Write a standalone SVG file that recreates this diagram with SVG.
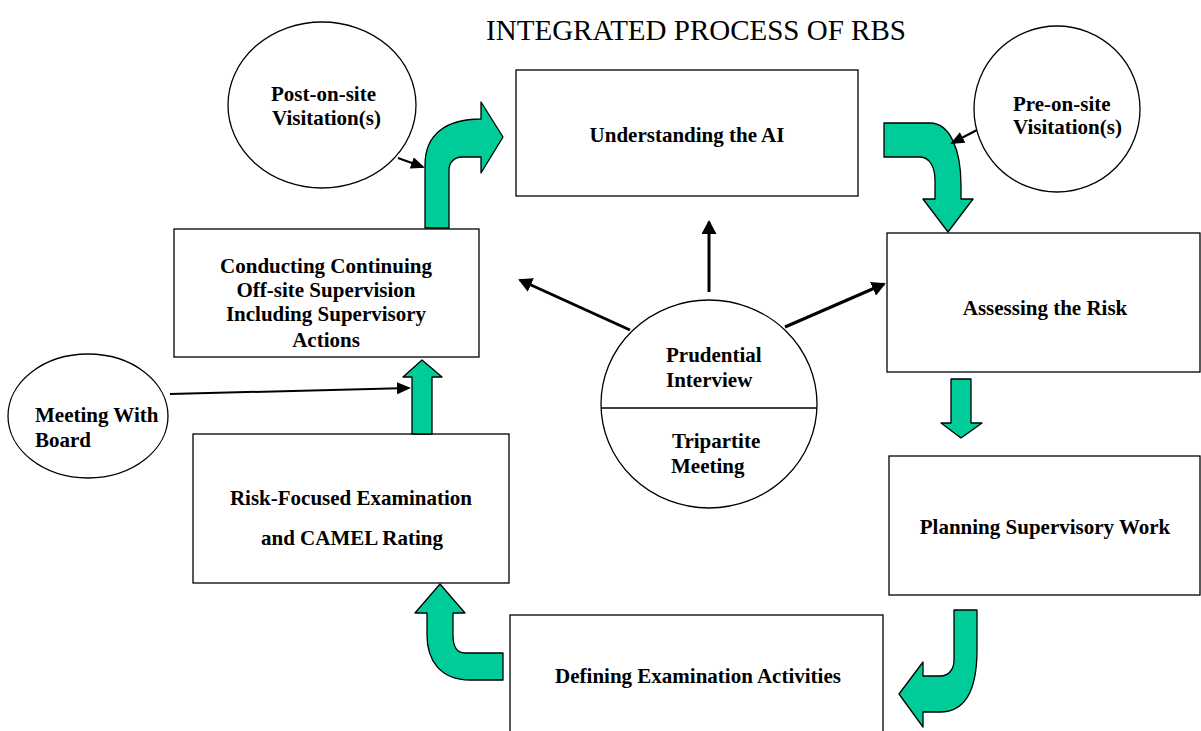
<svg xmlns="http://www.w3.org/2000/svg" width="1201" height="731" viewBox="0 0 1201 731">
<style>
.box{fill:#fff;stroke:#000;stroke-width:1.3}
.circ{fill:#fff;stroke:#000;stroke-width:1.3}
.t{font-family:"Liberation Serif","Times New Roman",serif;font-weight:bold;font-size:21px;fill:#000}
.c{text-anchor:middle}
.g{fill:#00CC99;stroke:#000;stroke-width:1.3;stroke-linejoin:round}
.ln{stroke:#000;fill:none}
</style>
<defs>
<marker id="ah" markerWidth="14" markerHeight="15" refX="12" refY="7.5" orient="auto" markerUnits="userSpaceOnUse"><path d="M0,0 L14,7.5 L0,15 Z" fill="#000"/></marker>
<marker id="ahs" markerWidth="14" markerHeight="12" refX="12" refY="6" orient="auto" markerUnits="userSpaceOnUse"><path d="M0,0 L14,6 L0,12 Z" fill="#000"/></marker>
</defs>
<rect width="1201" height="731" fill="#fff"/>
<text x="696" y="40" font-family="Liberation Serif,'Times New Roman',serif" font-size="29" text-anchor="middle">INTEGRATED PROCESS OF RBS</text>

<g id="understanding">
<rect class="box" x="516" y="70" width="342" height="126"/>
<text class="t c" x="687" y="142">Understanding the AI</text>
</g>
<g id="assessing">
<rect class="box" x="887" y="233" width="313" height="139"/>
<text class="t c" x="1045" y="315">Assessing the Risk</text>
</g>
<g id="planning">
<rect class="box" x="889" y="456" width="311" height="139"/>
<text class="t c" x="1045" y="534">Planning Supervisory Work</text>
</g>
<g id="defining">
<rect class="box" x="510" y="615" width="373" height="130"/>
<text class="t c" x="698" y="683">Defining Examination Activities</text>
</g>
<g id="riskfocused">
<rect class="box" x="193" y="434" width="316" height="149"/>
<text class="t c" x="351" y="505">Risk-Focused Examination</text>
<text class="t c" x="352" y="545">and CAMEL Rating</text>
</g>
<g id="conducting">
<rect class="box" x="174" y="229" width="305" height="128"/>
<text class="t c" x="326" y="273">Conducting Continuing</text>
<text class="t c" x="326" y="297">Off-site Supervision</text>
<text class="t c" x="326" y="321">Including Supervisory</text>
<text class="t c" x="326" y="347">Actions</text>
</g>
<g id="postonsite">
<ellipse class="circ" cx="322" cy="105" rx="94" ry="83"/>
<text class="t" x="271" y="101">Post-on-site</text>
<text class="t" x="272" y="125">Visitation(s)</text>
</g>
<g id="preonsite">
<ellipse class="circ" cx="1057" cy="109" rx="83" ry="83"/>
<text class="t" x="1013" y="111">Pre-on-site</text>
<text class="t" x="1013" y="134">Visitation(s)</text>
</g>
<g id="meetingboard">
<ellipse class="circ" cx="88" cy="416" rx="80" ry="62"/>
<text class="t" x="35" y="422">Meeting With</text>
<text class="t" x="35" y="447">Board</text>
</g>
<g id="prudential">
<ellipse class="circ" cx="709" cy="404" rx="108" ry="104"/>
<line class="ln" x1="601" y1="408" x2="817" y2="408" stroke-width="1.3"/>
<text class="t" x="666" y="362">Prudential</text>
<text class="t" x="666" y="387">Interview</text>
<text class="t" x="672" y="448">Tripartite</text>
<text class="t" x="671" y="473">Meeting</text>
</g>

<g id="connectors">
<path class="g" d="M425,228 L425,165 C425,135 445,119 481,119 L481,102 L503,137 L481,173 L481,157 L462,157 C455,157 449,162 449,170 L449,228 Z"/>
<path class="g" d="M884,123 L930,123 C950,123 961,150 961,185 L961,199 L973,199 L948,232 L923,199 L935,199 L935,180 C935,168 930,157 920,157 L884,157 Z"/>
<path class="g" d="M951,379 L971,379 L971,423 L982,423 L961,438 L941,423 L951,423 Z"/>
<path class="g" d="M954,610 L977,610 L977,650 C977,690 965,712 940,712 L923,712 L923,727 L899,694 L923,662 L923,676 L940,676 C950,676 954,668 954,660 Z"/>
<path class="g" d="M440,584 L465,613 L453,613 L453,635 C453,648 457,653 465,653 L503,653 L503,680 L470,680 C440,680 427,660 427,635 L427,613 L415,613 Z"/>
<path class="g" d="M422,360 L442,377 L432,377 L432,434 L412,434 L412,377 L403,377 Z"/>
<line class="ln" x1="709" y1="292" x2="709" y2="222" stroke-width="3" marker-end="url(#ah)"/>
<line class="ln" x1="630" y1="330" x2="520" y2="280" stroke-width="3" marker-end="url(#ah)"/>
<line class="ln" x1="785" y1="327" x2="884" y2="284" stroke-width="3" marker-end="url(#ah)"/>
<line class="ln" x1="398" y1="158" x2="423" y2="167" stroke-width="2" marker-end="url(#ahs)"/>
<line class="ln" x1="977" y1="130" x2="952" y2="143" stroke-width="2" marker-end="url(#ahs)"/>
<line class="ln" x1="170" y1="394" x2="409" y2="388" stroke-width="2" marker-end="url(#ahs)"/>
</g>
</svg>
